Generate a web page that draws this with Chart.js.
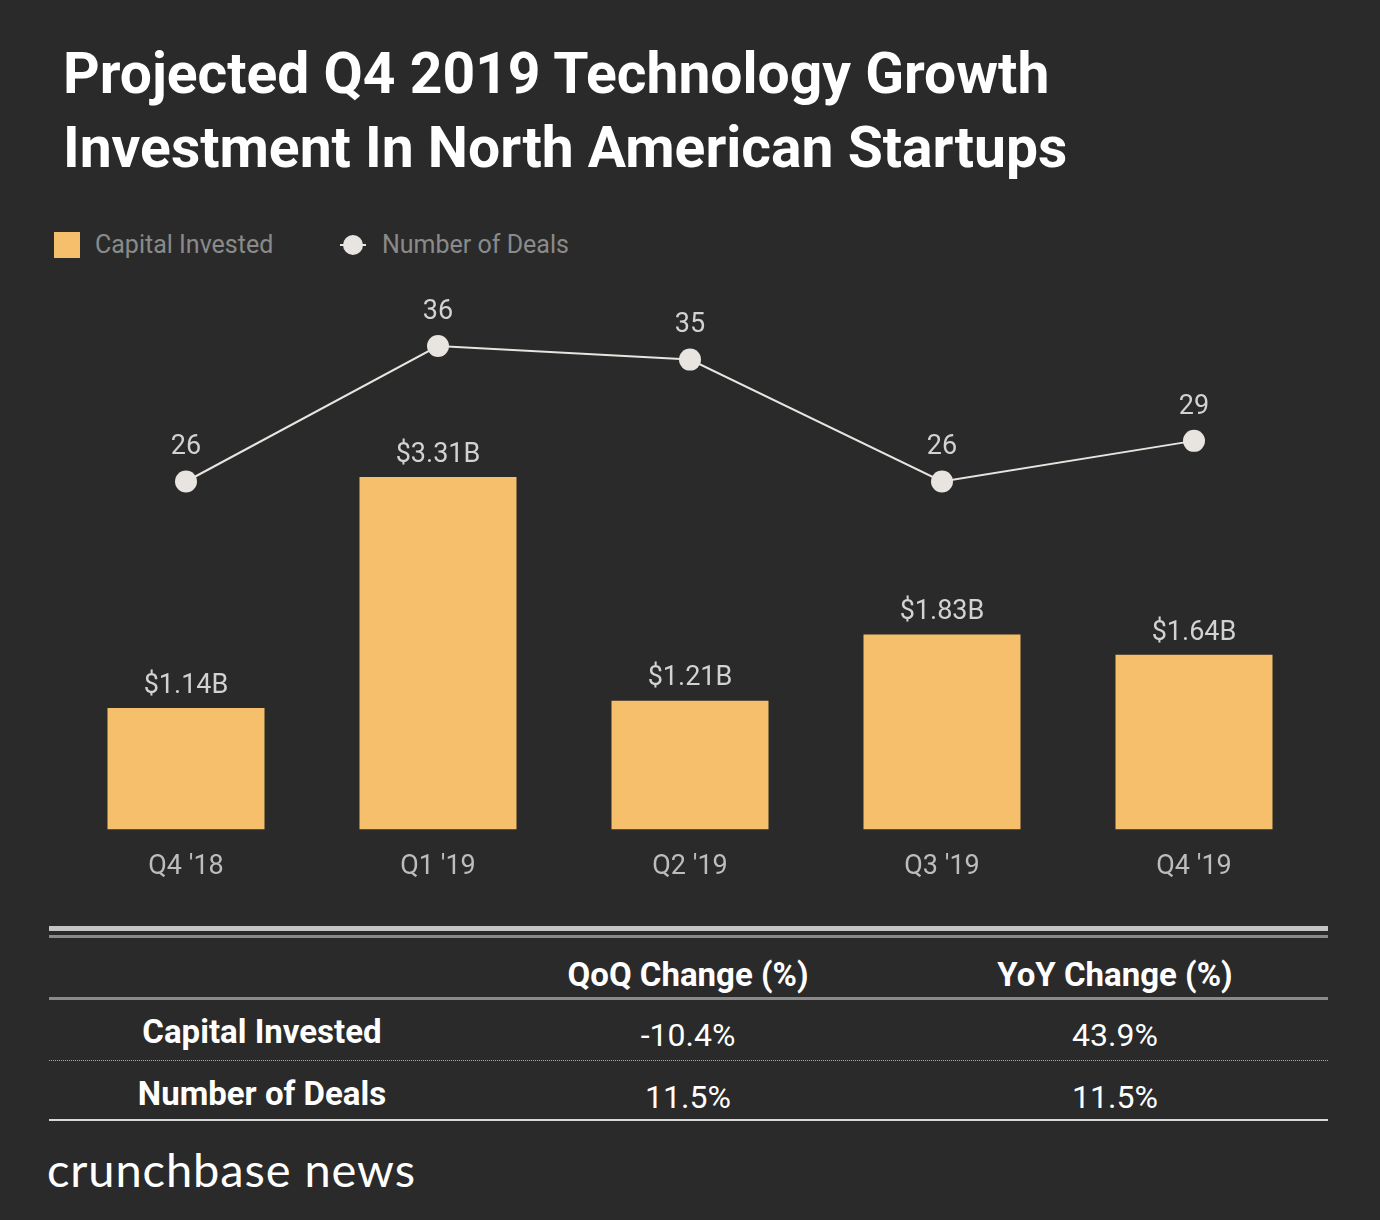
<!DOCTYPE html>
<html>
<head>
<meta charset="utf-8">
<script src="https://cdn.jsdelivr.net/npm/chart.js@4.4.1/dist/chart.umd.min.js"></script>
<style>
  html, body { margin: 0; padding: 0; }
  body { width: 1380px; height: 1220px; background: #2a2a2a; position: relative; overflow: hidden; font-family: Roboto, "Noto Sans", sans-serif; }
  .title { position: absolute; left: 63px; top: 37px; color: #ffffff; font-weight: 700; font-size: 57px; line-height: 74px; }
  .legend { position: absolute; top: 228px; left: 54px; height: 34px; color: #8a8a8a; font-size: 25px; }
  .legend .item { position: absolute; top: 0; white-space: nowrap; line-height: 34px; }
  .legend .sq { position: absolute; left: 0; top: 4px; width: 26px; height: 26px; background: #f5bf6b; }
  .legend .ln { position: absolute; left: 0; top: 16px; width: 26px; height: 2px; background: #e8e4df; }
  .legend .dot { position: absolute; left: 3px; top: 7px; width: 20px; height: 20px; border-radius: 50%; background: #e8e4df; }
  #wrap { position: absolute; left: 0; top: 280px; width: 1380px; height: 636px; }
  .hl { position: absolute; left: 49px; width: 1279px; }
  .cell { position: absolute; color: #ffffff; font-size: 32px; text-align: center; white-space: nowrap; transform: translate(-50%, -50%); }
  .b { font-weight: 700; font-size: 33px; }
  .logo { position: absolute; left: 47px; top: 1141px; color: #ffffff; font-family: Lato, sans-serif; font-size: 47px; letter-spacing: 0.9px; }
</style>
</head>
<body>
<div class="title">Projected Q4 2019 Technology Growth<br>Investment In North American Startups</div>
<div class="legend" id="legend"></div>
<div id="wrap"><canvas id="c"></canvas></div>
<div id="table"></div>
<div class="logo">crunchbase news</div>
<script>
// ---- data ----
const categories = ["Q4 '18", "Q1 '19", "Q2 '19", "Q3 '19", "Q4 '19"];
const capitalInvested = [1.14, 3.31, 1.21, 1.83, 1.64];   // $B
const numberOfDeals = [26, 36, 35, 26, 29];
const seriesNames = ["Capital Invested", "Number of Deals"];
const tableHeaders = ["QoQ Change (%)", "YoY Change (%)"];
const tableRowLabels = ["Capital Invested", "Number of Deals"];
const qoqChange = ["-10.4%", "11.5%"];
const yoyChange = ["43.9%", "11.5%"];

// ---- legend ----
const legend = document.getElementById('legend');
legend.innerHTML =
  '<div class="item" style="left:0"><div class="sq"></div><span style="margin-left:41px">' + seriesNames[0] + '</span></div>' +
  '<div class="item" style="left:286px"><div class="ln"></div><div class="dot"></div><span style="margin-left:42px">' + seriesNames[1] + '</span></div>';

// ---- table ----
const table = document.getElementById('table');
let html = '';
html += '<div class="hl" style="top:926px;height:5px;background:#c4c4c4"></div>';
html += '<div class="hl" style="top:935px;height:3px;background:#8a8a8a"></div>';
html += '<div class="hl" style="top:997px;height:3px;background:#8a8a8a"></div>';
html += '<div class="hl" style="top:1060px;height:0;border-top:1px dotted #aaaaaa"></div>';
html += '<div class="hl" style="top:1119px;height:2px;background:#d8d8d8"></div>';
const colX = [262, 688, 1115];
html += '<div class="cell b" style="left:' + colX[1] + 'px;top:974px">' + tableHeaders[0] + '</div>';
html += '<div class="cell b" style="left:' + colX[2] + 'px;top:974px">' + tableHeaders[1] + '</div>';
const rowY = [1031, 1093];
for (let i = 0; i < tableRowLabels.length; i++) {
  html += '<div class="cell b" style="left:' + colX[0] + 'px;top:' + rowY[i] + 'px">' + tableRowLabels[i] + '</div>';
  html += '<div class="cell" style="left:' + colX[1] + 'px;top:' + (rowY[i] + 4) + 'px">' + qoqChange[i] + '</div>';
  html += '<div class="cell" style="left:' + colX[2] + 'px;top:' + (rowY[i] + 4) + 'px">' + yoyChange[i] + '</div>';
}
table.innerHTML = html;

// ---- value labels plugin ----
const valueLabels = {
  id: 'valueLabels',
  afterDatasetsDraw(chart) {
    const ctx = chart.ctx;
    ctx.save();
    ctx.font = '27px Roboto';
    ctx.fillStyle = '#d2d2d2';
    ctx.textAlign = 'center';
    ctx.textBaseline = 'middle';
    chart.data.datasets.forEach((ds, di) => {
      const meta = chart.getDatasetMeta(di);
      meta.data.forEach((el, i) => {
        const v = ds.data[i];
        if (ds.type === 'bar') {
          ctx.fillText('$' + v.toFixed(2) + 'B', el.x, el.y - 22);
        } else {
          ctx.fillText(String(v), el.x, el.y - 34);
        }
      });
    });
    ctx.restore();
  }
};

Chart.defaults.font.family = 'Roboto';
new Chart(document.getElementById('c'), {
  data: {
    labels: categories,
    datasets: [
      {
        type: 'line',
        label: seriesNames[1],
        data: numberOfDeals,
        yAxisID: 'y1',
        borderColor: '#e8e4df',
        borderWidth: 2,
        pointRadius: 11,
        pointHoverRadius: 11,
        pointBackgroundColor: '#e8e4df',
        pointBorderWidth: 0,
        tension: 0,
        order: 0
      },
      {
        type: 'bar',
        label: seriesNames[0],
        data: capitalInvested,
        yAxisID: 'y',
        backgroundColor: '#f5bf6b',
        categoryPercentage: 1.0,
        barPercentage: 0.623,
        order: 1
      }
    ]
  },
  options: {
    responsive: true,
    maintainAspectRatio: false,
    animation: false,
    layout: { padding: { top: 20, left: 60, right: 60, bottom: 12 } },
    plugins: { legend: { display: false }, tooltip: { enabled: false } },
    scales: {
      x: {
        grid: { display: false, drawTicks: false },
        border: { display: false },
        ticks: { color: '#bdbdbd', font: { size: 27 }, padding: 21 }
      },
      y: { display: false, min: 0, max: 4.97 },
      y1: { display: false, min: 0.3, max: 39.4 }
    }
  },
  plugins: [valueLabels]
});
</script>
</body>
</html>
